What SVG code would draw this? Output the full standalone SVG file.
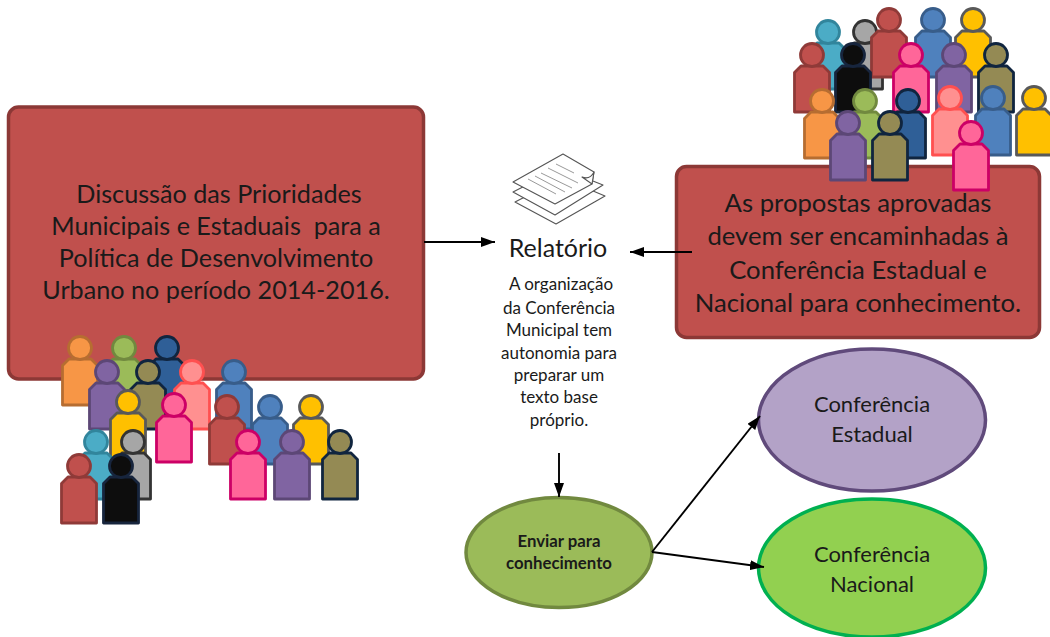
<svg xmlns="http://www.w3.org/2000/svg" width="1050" height="637" viewBox="0 0 1050 637">
<style>
text{font-family:"Lato","Open Sans","Liberation Sans",sans-serif;text-anchor:middle;fill:#1a1a1a;white-space:pre}
.box{fill:#c0504d;stroke:#8c3836;stroke-width:3.5}
.big{font-size:25.2px}
.bigr{font-size:25.7px}
.mid{font-size:22px}
.sm{font-size:17px}
.bold{font-size:16.8px;font-weight:700}
.conn{fill:none;stroke:#000;stroke-width:1.9;marker-end:url(#arr)}
.paper{fill:#fff;stroke:#555;stroke-width:1.1;stroke-linejoin:round}
.rule{stroke:#999;stroke-width:1}
.p{stroke-width:2.8;stroke-linejoin:round}
.red{fill:#c0504d;stroke:#8f3a38}.teal{fill:#4bacc6;stroke:#31859c}.gray{fill:#a6a6a6;stroke:#333}
.blue{fill:#4f81bd;stroke:#385d8a}.yellow{fill:#ffc000;stroke:#595959}.black{fill:#0d0d0d;stroke:#17253d}
.pink{fill:#ff6699;stroke:#cc0066}.purple{fill:#8064a2;stroke:#5c4776}.olive{fill:#948a54;stroke:#10253f}
.orange{fill:#f79646;stroke:#b66d31}.green{fill:#9bbb59;stroke:#71893f}.dblue{fill:#2f5f97;stroke:#10253f}
.salmon{fill:#ff9090;stroke:#ff5050}
</style>
<defs>
<marker id="arr" markerWidth="15" markerHeight="10" refX="14" refY="5" orient="auto" markerUnits="userSpaceOnUse"><path d="M0,0L14,5L0,10Z" fill="#000"/></marker>
<g id="person">
<path d="M-11,11H11L17.500,17.500V57H-17.500V17.500Z"/>
<circle cx="0" cy="0" r="11.500"/>
</g>
</defs>

<g id="node-discussao">
<rect class="box" x="8.500" y="107" width="415" height="272" rx="10"/>
<text class="big" x="219" y="203">Discussão das Prioridades</text>
<text class="big" x="216" y="235">Municipais e Estaduais  para a</text>
<text class="big" x="216" y="267">Política de Desenvolvimento</text>
<text class="big" x="216" y="299">Urbano no período 2014-2016.</text>
</g>

<g id="node-propostas">
<rect class="box" x="676.500" y="166.500" width="363" height="171" rx="10"/>
<text class="bigr" x="858" y="212">As propostas aprovadas</text>
<text class="bigr" x="858" y="245">devem ser encaminhadas à</text>
<text class="bigr" x="858" y="279">Conferência Estadual e</text>
<text class="bigr" x="858" y="312">Nacional para conhecimento.</text>
</g>

<g id="crowd-left" class="p">
<use href="#person" x="80" y="348" class="orange"/>
<use href="#person" x="124" y="348" class="green"/>
<use href="#person" x="167" y="348" class="dblue"/>
<use href="#person" x="234" y="372" class="blue"/>
<use href="#person" x="192" y="372" class="salmon"/>
<use href="#person" x="107" y="372" class="purple"/>
<use href="#person" x="148" y="372" class="olive"/>
<use href="#person" x="128" y="402" class="yellow"/>
<use href="#person" x="174" y="405" class="pink"/>
<use href="#person" x="227" y="407" class="red"/>
<use href="#person" x="270" y="407" class="blue"/>
<use href="#person" x="311" y="407" class="yellow"/>
<use href="#person" x="96" y="442" class="teal"/>
<use href="#person" x="133" y="442" class="gray"/>
<use href="#person" x="248" y="442" class="pink"/>
<use href="#person" x="292" y="442" class="purple"/>
<use href="#person" x="340" y="442" class="olive"/>
<use href="#person" x="79" y="466" class="red"/>
<use href="#person" x="121" y="466" class="black"/>
</g>

<g id="crowd-right" class="p">
<use href="#person" x="828" y="32" class="teal"/>
<use href="#person" x="865" y="32" class="gray"/>
<use href="#person" x="889" y="20" class="red"/>
<use href="#person" x="933" y="20" class="blue"/>
<use href="#person" x="973" y="20" class="yellow"/>
<use href="#person" x="812" y="55" class="red"/>
<use href="#person" x="853" y="55" class="black"/>
<use href="#person" x="911" y="55" class="pink"/>
<use href="#person" x="954" y="55" class="purple"/>
<use href="#person" x="996" y="55" class="olive"/>
<use href="#person" x="822" y="101" class="orange"/>
<use href="#person" x="865" y="101" class="green"/>
<use href="#person" x="908" y="101" class="dblue"/>
<use href="#person" x="950" y="98" class="salmon"/>
<use href="#person" x="993" y="98" class="blue"/>
<use href="#person" x="1034" y="98" class="yellow"/>
<use href="#person" x="848" y="123" class="purple"/>
<use href="#person" x="890" y="123" class="olive"/>
<use href="#person" x="971" y="133" class="pink"/>
</g>

<g id="node-relatorio">
<path class="paper" d="M515,202L562,178L605,196L556,224Z"/>
<path class="paper" d="M513,192L560,168L603,185L555,215Z"/>
<path class="paper" d="M513,182L563,154L594,172L592,184L555,204Z"/>
<path class="paper" d="M582,177Q590,180 594,172L592,184Z"/>
<path class="rule" d="M556,164L574,173M548,168L578,183M541,173L572,188M535,176L565,192M528,179L556,194" fill="none"/>
<text x="558" y="257" font-size="25">Relatório</text>
<text class="sm" x="561" y="290">A organização</text>
<text class="sm" x="559" y="314">da Conferência</text>
<text class="sm" x="559" y="336">Municipal tem</text>
<text class="sm" x="559" y="359">autonomia para</text>
<text class="sm" x="559" y="381">preparar um</text>
<text class="sm" x="559" y="403">texto base</text>
<text class="sm" x="559" y="426">próprio.</text>
</g>

<g id="node-enviar">
<ellipse cx="559" cy="552.500" rx="93" ry="55" fill="#9bbb59" stroke="#71893f" stroke-width="3.500"/>
<text class="bold" x="559" y="547">Enviar para</text>
<text class="bold" x="559" y="569">conhecimento</text>
</g>

<g id="node-estadual">
<ellipse cx="872" cy="420" rx="113.500" ry="71" fill="#b3a2c7" stroke="#604a7b" stroke-width="3.500"/>
<text class="mid" x="872" y="412">Conferência</text>
<text class="mid" x="872" y="442">Estadual</text>
</g>

<g id="node-nacional">
<ellipse cx="872" cy="568" rx="113.500" ry="69" fill="#92d050" stroke="#00b050" stroke-width="3.500"/>
<text class="mid" x="872" y="562">Conferência</text>
<text class="mid" x="872" y="592">Nacional</text>
</g>

<g id="connectors">
<path class="conn" d="M424,242H495"/>
<path class="conn" d="M692,252H630"/>
<path class="conn" d="M559,453V497"/>
<path class="conn" d="M652,552L760,416"/>
<path class="conn" d="M652,552L764,567"/>
</g>
</svg>
